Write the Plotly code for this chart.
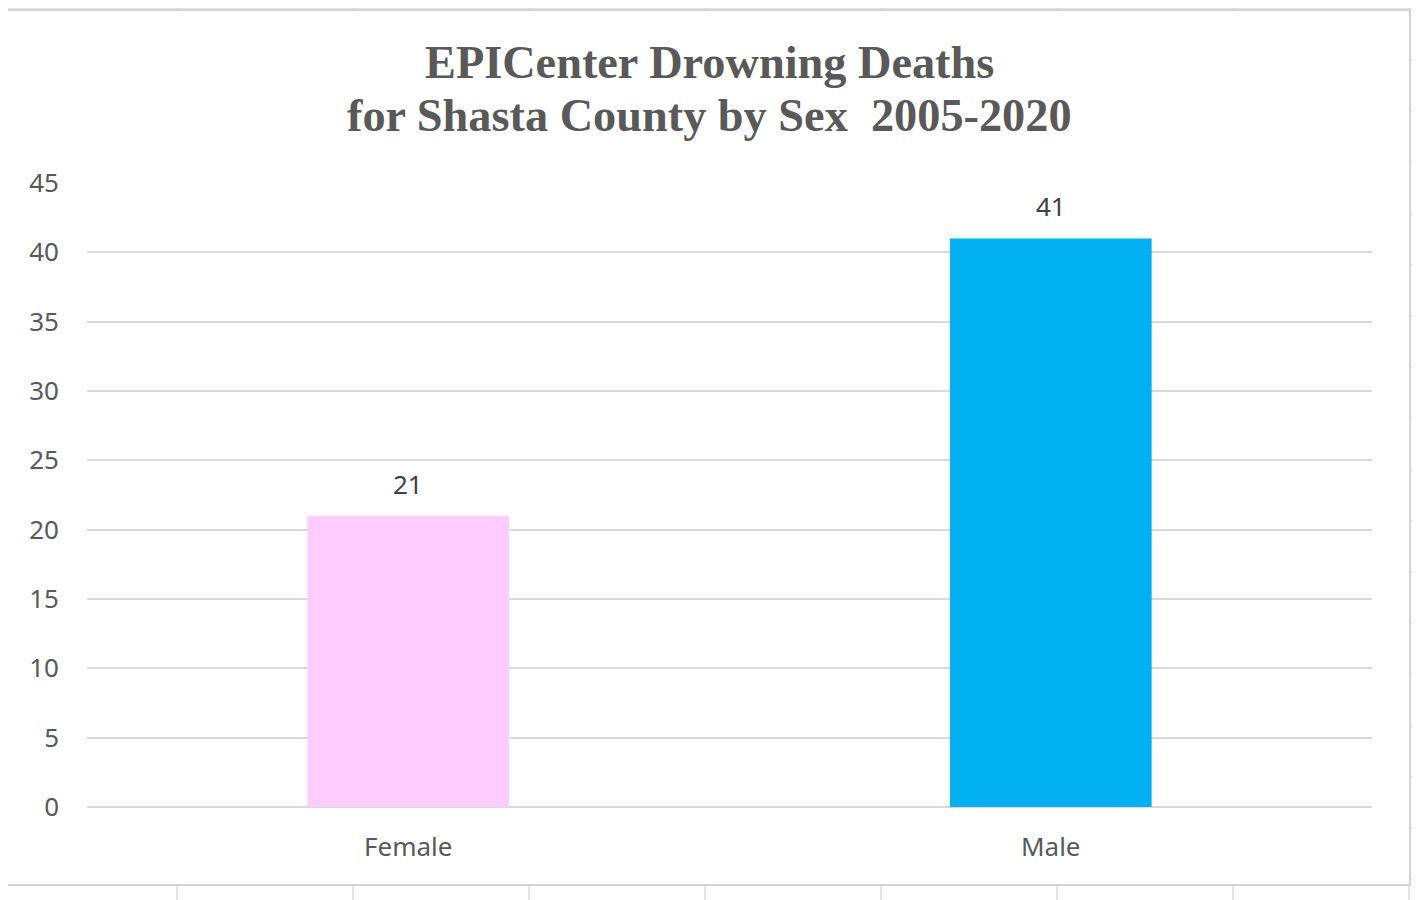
import plotly.graph_objects as go

# ---------- data ----------
categories = ["Female", "Male"]
deaths = [21, 41]
bar_colors = ["#FFCCFF", "#00B0F0"]
y_ticks = [0, 5, 10, 15, 20, 25, 30, 35, 40, 45]
title_lines = ["EPICenter Drowning Deaths", "for Shasta County by Sex  2005-2020"]

# ---------- page geometry (px) ----------
# the page body has an 8px margin, so the figure is drawn 8px in from the window edge
OFF = 8
W, H = 1412, 892
ML, MR, MT, MB = 79, 48, 175, 93
PW = W - ML - MR
PH = H - MT - MB


def px_x(px):
    """window x (px) -> paper x"""
    return (px - OFF - ML) / PW


def px_y(py):
    """window y (px) -> paper y"""
    return (H - MB - (py - OFF)) / PH


fig = go.Figure()

fig.add_trace(go.Bar(
    x=categories, y=deaths,
    marker=dict(color=bar_colors, line=dict(width=0)),
    width=0.314,
    showlegend=False,
    hoverinfo="x+y",
))

# value labels above the bars
for cat, val in zip(categories, deaths):
    fig.add_annotation(
        x=cat, y=val, text=str(val), showarrow=False,
        yanchor="middle", yshift=32,
        font=dict(family="Noto Sans", size=26, color="#404040"),
    )

# two-line chart title (Excel-like tight line spacing)
for i, line in enumerate(title_lines):
    fig.add_annotation(
        xref="paper", yref="paper",
        x=px_x(709), y=px_y(62 + 54 * i),
        xanchor="center", yanchor="middle",
        text=f"<b>{line}</b>", showarrow=False,
        font=dict(family="Liberation Serif", size=46.3, color="#595959"),
    )

# ---------- spreadsheet backdrop + chart frame ----------
grid_col = "#DADADA"
shapes = []
# column lines of the sheet
cx = 177
while cx < 1420:
    shapes.append(dict(type="line", xref="paper", yref="paper", layer="below",
                       x0=px_x(cx), x1=px_x(cx), y0=px_y(0), y1=px_y(900),
                       line=dict(color=grid_col, width=1.5)))
    cx += 176
# row lines of the sheet
ry = 9
while ry < 900:
    shapes.append(dict(type="line", xref="paper", yref="paper", layer="below",
                       x0=px_x(0), x1=px_x(1420), y0=px_y(ry), y1=px_y(ry),
                       line=dict(color=grid_col, width=1.5)))
    ry += 51.2
# chart area (white, framed)
shapes.append(dict(type="rect", xref="paper", yref="paper", layer="below",
                   x0=px_x(7), x1=px_x(1410), y0=px_y(885), y1=px_y(10),
                   fillcolor="white", line=dict(color="#D4D4D4", width=2)))

fig.update_layout(
    width=W, height=H,
    margin=dict(l=ML, r=MR, t=MT, b=MB, autoexpand=False),
    paper_bgcolor="white",
    plot_bgcolor="rgba(0,0,0,0)",
    shapes=shapes,
    bargap=0.686,
    font=dict(family="Noto Sans", color="#595959"),
)

fig.update_yaxes(
    range=[0, 45],
    tickmode="array", tickvals=y_ticks,
    showgrid=True, gridcolor="#D9D9D9", gridwidth=2,
    zeroline=True, zerolinecolor="#D9D9D9", zerolinewidth=2,
    showline=False, ticks="",
    tickfont=dict(family="Noto Sans", size=26, color="#595959"),
    ticklabelstandoff=27,
    fixedrange=True,
)
fig.update_xaxes(
    showgrid=False, showline=False, ticks="",
    tickfont=dict(family="Noto Sans", size=26, color="#595959"),
    ticklabelstandoff=22,
    fixedrange=True,
)

fig.write_html("out.html")
